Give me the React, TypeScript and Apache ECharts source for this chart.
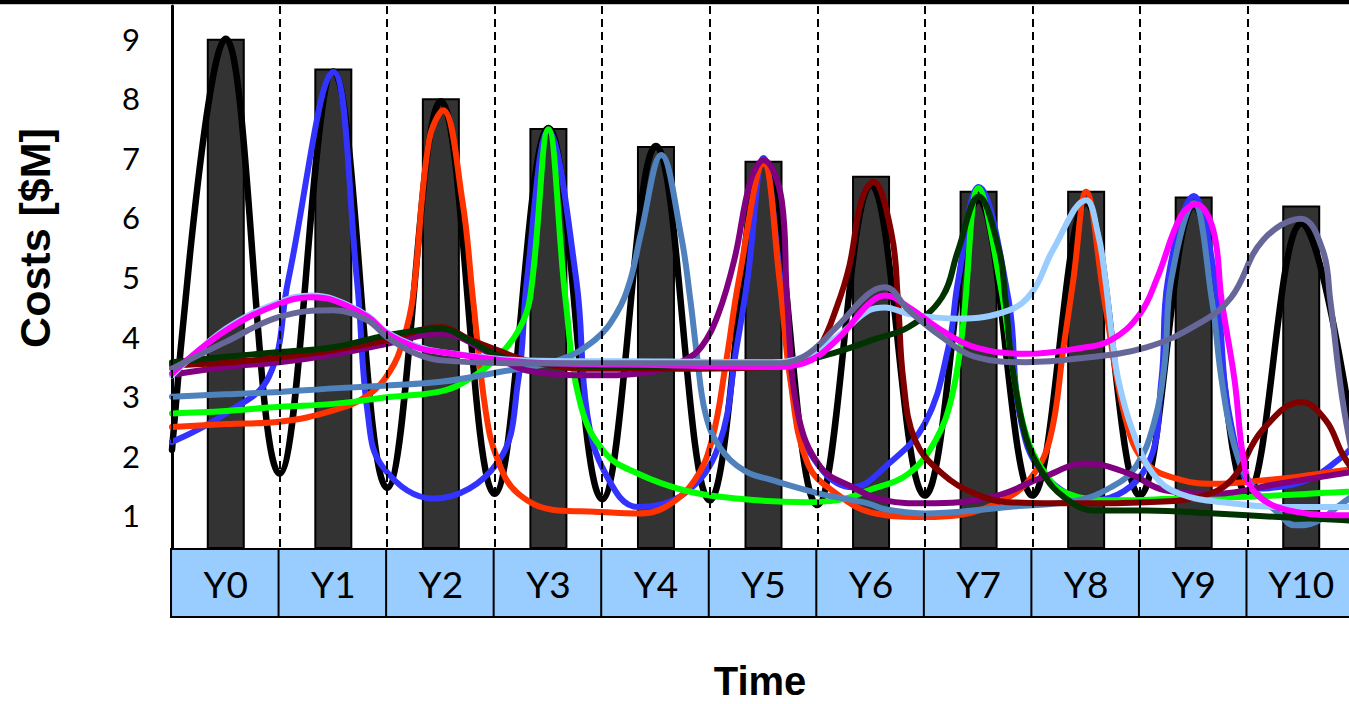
import React, { useEffect, useRef } from 'react';
import * as echarts from 'echarts';

// Categories (years) and the total cost bars
const categories = ['Y0', 'Y1', 'Y2', 'Y3', 'Y4', 'Y5', 'Y6', 'Y7', 'Y8', 'Y9', 'Y10'];
const totalCosts = [9.0, 8.5, 8.0, 7.5, 7.2, 6.95, 6.7, 6.45, 6.45, 6.35, 6.2];
const costTicks = [1, 2, 3, 4, 5, 6, 7, 8, 9];

// Smooth cost curves, [year position, cost $M]; year i is centred on i
const curveBlack: number[][] = [
  [-0.5, 2.1], [0, 9.0], [0.5, 1.7], [1, 8.45], [1.5, 1.46], [2, 7.95], [2.5, 1.36], [3, 7.5],
  [3.5, 1.27], [4, 7.2], [4.5, 1.25], [5, 6.95], [5.5, 1.17], [6, 6.55], [6.5, 1.33], [7, 6.3],
  [7.5, 1.33], [8, 6.25], [8.5, 1.33], [9, 6.2], [9.5, 1.35], [10, 5.9], [10.55, 1.5],
];
const curveBlue: number[][] = [
  [-0.5, 2.23], [0, 2.71], [0.4, 3.32], [0.58, 4.94], [1, 8.44], [1.22, 4.94], [1.32, 2.71], [1.46, 1.81],
  [1.93, 1.28], [2.53, 1.89], [2.72, 3.27], [2.8, 4.94], [3, 7.45], [3.26, 4.94], [3.36, 2.71], [3.53, 1.7],
  [3.83, 1.14], [4.26, 1.36], [4.58, 2.15], [4.75, 3.82], [4.85, 4.94], [5, 7.0], [5.16, 4.94], [5.32, 2.6],
  [5.55, 1.75], [5.83, 1.47], [6.13, 1.81], [6.5, 2.54], [6.72, 3.82], [6.81, 4.94], [7, 6.51], [7.28, 4.6],
  [7.38, 2.71], [7.6, 1.7], [8.07, 1.25], [8.56, 1.81], [8.7, 3.27], [8.76, 4.94], [9, 6.36], [9.2, 4.94],
  [9.35, 2.5], [9.61, 1.45], [10.05, 1.59], [10.38, 1.98], [10.5, 2.2],
];
const curveRed: number[][] = [
  [-0.5, 2.48], [0, 2.53], [0.5, 2.57], [1, 2.76], [1.32, 3.01], [1.53, 3.43], [1.65, 3.94], [1.74, 4.66],
  [1.89, 7.29], [2.02, 7.8], [2.2, 6.28], [2.3, 4.61], [2.42, 2.71], [2.53, 1.92], [2.72, 1.36], [3.09, 1.08],
  [3.43, 1.06], [3.83, 1.03], [4.09, 1.14], [4.36, 1.59], [4.52, 2.26], [4.65, 3.55], [4.77, 4.94], [5, 6.9],
  [5.15, 4.94], [5.25, 3.27], [5.41, 1.87], [5.68, 1.36], [6.04, 1.03], [6.5, 0.97], [6.81, 1.0], [7.22, 1.25],
  [7.47, 1.59], [7.66, 2.26], [7.79, 3.82], [7.88, 4.94], [8, 6.43], [8.17, 4.61], [8.37, 2.59], [8.56, 1.87],
  [8.89, 1.59], [9.2, 1.53], [9.49, 1.56], [9.94, 1.64], [10.38, 1.75], [10.5, 1.78],
];
const curveGreen: number[][] = [
  [-0.5, 2.71], [0, 2.75], [0.5, 2.82], [1, 2.87], [1.5, 2.98], [2, 3.08], [2.25, 3.27], [2.53, 3.66],
  [2.72, 4.1], [2.83, 4.66], [3, 7.48], [3.16, 4.61], [3.3, 2.85], [3.53, 2.04], [3.83, 1.7], [4.26, 1.42],
  [4.75, 1.28], [5.38, 1.22], [5.68, 1.25], [5.98, 1.42], [6.35, 1.7], [6.6, 2.26], [6.75, 2.98], [6.85, 4.1],
  [7, 6.49], [7.2, 4.9], [7.35, 3.1], [7.47, 2.2], [7.62, 1.7], [7.8, 1.38], [8.24, 1.25], [8.87, 1.28],
  [9.49, 1.31], [10.38, 1.39], [10.5, 1.4],
];
const curveSteelBlue: number[][] = [
  [-0.5, 2.99], [0, 3.03], [0.5, 3.07], [1, 3.13], [1.5, 3.18], [2, 3.24], [2.53, 3.4], [3.09, 3.6],
  [3.43, 3.94], [3.63, 4.38], [3.76, 4.94], [3.86, 5.73], [4.05, 7.05], [4.23, 5.73], [4.32, 4.61], [4.38, 3.7],
  [4.46, 2.71], [4.59, 2.15], [4.82, 1.75], [5.08, 1.59], [5.53, 1.36], [5.97, 1.2], [6.13, 1.1], [6.5, 1.03],
  [7.28, 1.14], [7.92, 1.25], [8.23, 1.47], [8.46, 1.81], [8.63, 2.54], [8.73, 3.55], [8.79, 4.94], [9, 6.24],
  [9.17, 4.61], [9.26, 3.27], [9.38, 2.15], [9.55, 1.47], [9.79, 1.03], [9.94, 0.83], [10.14, 0.89], [10.38, 1.2],
  [10.5, 1.35],
];
const curvePurple: number[][] = [
  [-0.5, 3.36], [0, 3.49], [0.5, 3.57], [1, 3.7], [1.5, 3.88], [2, 4.05], [2.48, 3.7], [2.8, 3.43],
  [3.43, 3.35], [3.93, 3.4], [4.26, 3.6], [4.42, 3.82], [4.58, 4.38], [4.73, 5.3], [4.88, 6.62], [5, 6.96],
  [5.17, 6.28], [5.22, 4.61], [5.32, 2.71], [5.53, 1.81], [5.83, 1.47], [6.13, 1.25], [6.5, 1.2], [7.13, 1.31],
  [7.6, 1.64], [8, 1.87], [8.4, 1.7], [8.73, 1.42], [9.2, 1.36], [9.79, 1.53], [10.38, 1.7], [10.5, 1.74],
];
const curveDarkRed: number[][] = [
  [-0.5, 3.52], [0, 3.56], [0.5, 3.65], [1, 3.77], [1.5, 3.94], [2, 4.16], [2.26, 3.96], [2.53, 3.77],
  [2.8, 3.6], [3.35, 3.46], [4.42, 3.46], [5.07, 3.49], [5.37, 3.6], [5.52, 3.82], [5.68, 4.49], [5.8, 5.2],
  [5.91, 6.28], [6.02, 6.6], [6.19, 5.73], [6.25, 4.61], [6.3, 3.27], [6.41, 2.26], [6.66, 1.7], [6.97, 1.36],
  [7.28, 1.22], [7.92, 1.2], [8.56, 1.22], [9.05, 1.31], [9.35, 1.59], [9.64, 2.43], [10, 2.9], [10.23, 2.59],
  [10.38, 2.04], [10.5, 1.7],
];
const curveDarkGreen: number[][] = [
  [-0.5, 3.57], [0, 3.66], [0.5, 3.74], [1, 3.82], [1.5, 4.02], [2, 4.13], [2.26, 3.94], [2.53, 3.68],
  [2.8, 3.57], [3.76, 3.49], [4.75, 3.52], [5.37, 3.6], [5.68, 3.74], [6.04, 3.96], [6.35, 4.16], [6.66, 4.66],
  [6.81, 5.45], [7, 6.35], [7.19, 5.45], [7.25, 4.61], [7.31, 3.55], [7.44, 2.31], [7.6, 1.7], [7.79, 1.31],
  [8.07, 1.08], [8.56, 1.08], [9.2, 1.03], [9.79, 0.97], [10.38, 0.92], [10.5, 0.9],
];
const curveLightBlue: number[][] = [
  [-0.5, 3.35], [0, 4.13], [0.5, 4.58], [0.8, 4.69], [1, 4.63], [1.32, 4.35], [1.5, 4.07], [1.77, 3.84],
  [2, 3.74], [2.8, 3.6], [4.09, 3.58], [5.07, 3.57], [5.37, 3.66], [5.68, 3.99], [5.98, 4.44], [6.13, 4.49],
  [6.35, 4.38], [6.81, 4.3], [7.28, 4.44], [7.5, 4.75], [7.69, 5.45], [8, 6.29], [8.11, 5.73], [8.18, 4.94],
  [8.24, 4.0], [8.3, 3.27], [8.43, 2.43], [8.62, 1.7], [8.87, 1.36], [9.35, 1.2], [9.79, 1.14], [10.38, 1.14],
  [10.5, 1.14],
];
const curveMagenta: number[][] = [
  [-0.5, 3.38], [0, 4.1], [0.5, 4.55], [0.8, 4.66], [1, 4.61], [1.32, 4.33], [1.5, 4.05], [1.77, 3.82],
  [2, 3.74], [2.8, 3.57], [4.09, 3.52], [5.07, 3.49], [5.37, 3.55], [5.68, 3.94], [5.98, 4.55], [6.13, 4.69],
  [6.35, 4.49], [6.66, 4.1], [6.97, 3.82], [7.44, 3.71], [7.92, 3.8], [8.23, 3.94], [8.5, 4.38], [8.66, 4.98],
  [8.88, 6.02], [9.02, 6.22], [9.18, 5.8], [9.26, 4.61], [9.38, 3.27], [9.47, 1.87], [9.58, 1.36], [9.94, 1.06],
  [10.38, 1.0], [10.5, 1.0],
];
const curveSlate: number[][] = [
  [-0.5, 3.46], [0, 3.91], [0.5, 4.33], [1, 4.44], [1.32, 4.27], [1.5, 3.99], [1.77, 3.71], [2, 3.6],
  [2.8, 3.55], [5.07, 3.55], [5.37, 3.66], [5.68, 4.16], [5.98, 4.72], [6.13, 4.83], [6.35, 4.44], [6.66, 3.99],
  [6.97, 3.66], [7.44, 3.57], [7.92, 3.63], [8.56, 3.82], [9.05, 4.22], [9.35, 4.66], [9.64, 5.61], [10, 5.98],
  [10.2, 5.45], [10.27, 4.61], [10.38, 2.98], [10.5, 1.8],
];

const curveList = [
  { name: 'Total', color: '#000000', width: 6.5, data: curveBlack },
  { name: 'Every 2 years', color: '#3333FF', width: 6, data: curveBlue },
  { name: 'Every 3 years', color: '#FF3300', width: 6, data: curveRed },
  { name: 'Every 4 years', color: '#00FF00', width: 6, data: curveGreen },
  { name: 'Every 5 years', color: '#4F81BD', width: 6, data: curveSteelBlue },
  { name: 'Every 6 years', color: '#800080', width: 6, data: curvePurple },
  { name: 'Every 7 years', color: '#800000', width: 6, data: curveDarkRed },
  { name: 'Every 8 years', color: '#003300', width: 6, data: curveDarkGreen },
  { name: 'Every 9 years', color: '#99CCFF', width: 6, data: curveLightBlue },
  { name: 'Every 10 years', color: '#FF00FF', width: 6, data: curveMagenta },
  { name: 'Every 11 years', color: '#666699', width: 6, data: curveSlate },
];

export default function App() {
  const ref = useRef<HTMLDivElement>(null);

  useEffect(() => {
    if (!ref.current) return;
    const chart = echarts.init(ref.current, null, { renderer: 'svg' });
    chart.setOption({
      animation: false,
      backgroundColor: '#ffffff',
      grid: { left: 172, top: 6, width: 1183, height: 542, containLabel: false, outerBoundsMode: 'none' },
      xAxis: [
        { type: 'value', min: -0.5, max: 10.5, show: false, position: 'top' },
        {
          type: 'category',
          data: categories,
          boundaryGap: true,
          position: 'bottom',
          axisLine: { show: false },
          axisTick: { show: false },
          splitLine: { show: true, interval: 0, lineStyle: { color: '#000', width: 2, type: [8, 5] } },
          axisLabel: {
            interval: 0,
            margin: 2,
            width: 107.5,
            height: 66,
            lineHeight: 66,
            align: 'center',
            backgroundColor: '#99CCFF',
            borderColor: '#000',
            borderWidth: 2,
            fontFamily: 'Lato',
            fontSize: 37,
            color: '#000',
          },
          z: 10,
        },
      ],
      yAxis: {
        type: 'value',
        min: 0.45,
        max: 9.55,
        axisLine: { show: true, onZero: false, lineStyle: { color: '#000', width: 3 } },
        axisTick: { show: false },
        splitLine: { show: false },
        axisLabel: {
          customValues: costTicks,
          margin: 32,
          fontFamily: 'Lato',
          fontSize: 31,
          color: '#000',
        },
      },
      graphic: [
        { type: 'rect', shape: { x: 0, y: 0, width: 1349, height: 4 }, style: { fill: '#000' }, silent: true },
        { type: 'rect', shape: { x: 0, y: 4, width: 1349, height: 1 }, style: { fill: '#c8c8c8' }, silent: true },
        {
          type: 'text',
          x: 35,
          y: 238,
          rotation: Math.PI / 2,
          style: { text: 'Costs [$M]', fontFamily: 'Liberation Sans', fontWeight: 'bold', fontSize: 43, fill: '#000', align: 'center', verticalAlign: 'middle' },
        },
        {
          type: 'text',
          x: 760,
          y: 681,
          style: { text: 'Time', fontFamily: 'Liberation Sans', fontWeight: 'bold', fontSize: 40, fill: '#000', align: 'center', verticalAlign: 'middle' },
        },
      ],
      series: [
        {
          name: 'Total costs',
          type: 'bar',
          xAxisIndex: 1,
          yAxisIndex: 0,
          data: totalCosts,
          barWidth: 38,
          itemStyle: { color: '#333333', borderColor: '#000', borderWidth: 2 },
          clip: true,
          silent: true,
        },
        ...curveList.map((c) => ({
          name: c.name,
          type: 'line',
          xAxisIndex: 0,
          yAxisIndex: 0,
          data: c.data,
          smooth: 0.4,
          symbol: 'none',
          showSymbol: false,
          clip: true,
          silent: true,
          lineStyle: { color: c.color, width: c.width, cap: 'round', join: 'round' },
        })),
      ],
    });
    return () => chart.dispose();
  }, []);

  return <div ref={ref} style={{ position: 'absolute', left: 0, top: 0, width: 1349, height: 704 }} />;
}
